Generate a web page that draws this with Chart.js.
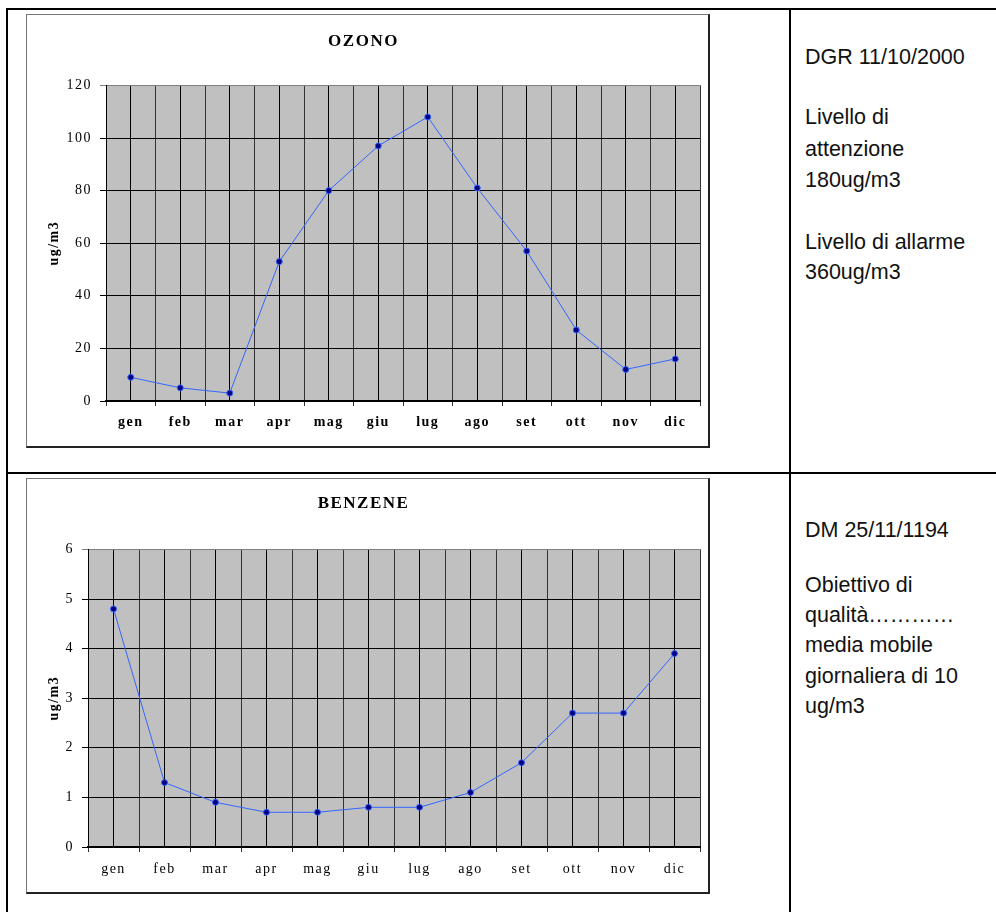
<!DOCTYPE html>
<html>
<head>
<meta charset="utf-8">
<script src="https://cdn.jsdelivr.net/npm/chart.js@4.4.0/dist/chart.umd.min.js"></script>
<style>
body { margin:0; background:#fff; width:996px; height:912px; overflow:hidden; position:relative; font-family:"Liberation Sans", Arial, sans-serif; }
.rule { position:absolute; background:#000; }
.box { position:absolute; left:26px; width:684px; box-sizing:border-box; border:1px solid #777; border-right:2px solid #222; border-bottom:2px solid #222; background:#fff; }
.box canvas { display:block; }
.note { position:absolute; left:805px; font-size:21.5px; line-height:31px; color:#111; white-space:nowrap; }
</style>
</head>
<body>
<div class="rule" style="left:6px;top:8px;width:990px;height:2px"></div>
<div class="rule" style="left:6px;top:8px;width:2px;height:904px"></div>
<div class="rule" style="left:789px;top:8px;width:2px;height:904px"></div>
<div class="rule" style="left:6px;top:472px;width:990px;height:2px"></div>

<div class="box" style="top:14px;height:434px"><canvas id="ozonoChart" width="681" height="431"></canvas></div>
<div class="box" style="top:478px;height:416px"><canvas id="benzeneChart" width="681" height="413"></canvas></div>

<div class="note" style="top:42px">DGR 11/10/2000</div>
<div class="note" style="top:102px">Livello di</div>
<div class="note" style="top:134px">attenzione</div>
<div class="note" style="top:165px">180ug/m3</div>
<div class="note" style="top:227px">Livello di allarme</div>
<div class="note" style="top:257px">360ug/m3</div>

<div class="note" style="top:515px">DM 25/11/1194</div>
<div class="note" style="top:570px">Obiettivo di</div>
<div class="note" style="top:600px">qualità…………</div>
<div class="note" style="top:630px">media mobile</div>
<div class="note" style="top:661px">giornaliera di 10</div>
<div class="note" style="top:691px">ug/m3</div>

<script>
const months = ['gen', 'feb', 'mar', 'apr', 'mag', 'giu', 'lug', 'ago', 'set', 'ott', 'nov', 'dic'];
const ozono = [9, 5, 3, 53, 80, 97, 108, 81, 57, 27, 12, 16];
const benzene = [4.8, 1.3, 0.9, 0.7, 0.7, 0.8, 0.8, 1.1, 1.7, 2.7, 2.7, 3.9];
const ozonoAxis = { max: 120, step: 20 };
const benzeneAxis = { max: 6, step: 1 };

const serif = '"Liberation Serif", "Times New Roman", serif';

// grey plot area + the spaced-out lettering of the original
const plotBack = {
    id: 'plotBack',
    beforeDraw(chart) {
        const { ctx, chartArea: a } = chart;
        ctx.save();
        ctx.fillStyle = '#c0c0c0';
        ctx.fillRect(a.left, a.top, a.width, a.height);
        ctx.restore();
        ctx.letterSpacing = '1.5px';
    }
};

function makeChart(id, title, values, axis, o) {
    const ctx = document.getElementById(id).getContext('2d');
    return new Chart(ctx, {
        type: 'line',
        data: {
            labels: months,
            datasets: [{
                data: values,
                borderColor: '#3366ff',
                borderWidth: 1,
                pointRadius: 3,
                pointBackgroundColor: '#000080',
                pointBorderColor: '#3366ff',
                pointBorderWidth: 1,
                tension: 0
            }]
        },
        options: {
            responsive: false,
            animation: false,
            layout: { padding: { right: 8 } },
            plugins: {
                legend: { display: false },
                tooltip: { enabled: false },
                title: {
                    display: true,
                    text: title,
                    color: '#000',
                    font: { family: serif, size: 17, weight: 'bold' },
                    padding: { top: o.titleTop, bottom: o.titleBottom }
                }
            },
            scales: {
                x: {
                    type: 'category',
                    offset: true,
                    grid: { offset: true, color: '#333', tickLength: 5 },
                    border: { color: '#000', width: 2 },
                    ticks: {
                        color: '#000',
                        font: { family: serif, size: 14, weight: o.xBold ? 'bold' : 'normal' },
                        padding: o.xPad,
                        maxRotation: 0,
                        autoSkip: false
                    },
                    afterFit(s) { s.height = 45; }
                },
                xc: {
                    type: 'category',
                    labels: months,
                    position: 'bottom',
                    offset: true,
                    grid: { offset: false, drawTicks: false, color: '#000' },
                    ticks: { display: false },
                    border: { display: false },
                    afterFit(s) { s.height = 0; }
                },
                y: {
                    min: 0,
                    max: axis.max,
                    ticks: {
                        stepSize: axis.step,
                        color: '#000',
                        font: { family: serif, size: 14 },
                        padding: 8
                    },
                    grid: {
                        color: c => (c.tick && c.tick.value === axis.max) ? '#808080' : '#000',
                        tickLength: 6
                    },
                    border: { color: '#000' },
                    title: {
                        display: true,
                        text: 'ug/m3',
                        color: '#000',
                        font: { family: serif, size: 14, weight: 'bold' },
                        padding: { top: 19 }
                    },
                    afterFit(s) { s.width = o.yWidth; }
                }
            }
        },
        plugins: [plotBack]
    });
}

makeChart('ozonoChart', 'OZONO', ozono, ozonoAxis,
    { titleTop: 16, titleBottom: 34, xBold: true, xPad: 8, yWidth: 79 });
makeChart('benzeneChart', 'BENZENE', benzene, benzeneAxis,
    { titleTop: 14, titleBottom: 36, xBold: false, xPad: 9, yWidth: 61 });
</script>
</body>
</html>
